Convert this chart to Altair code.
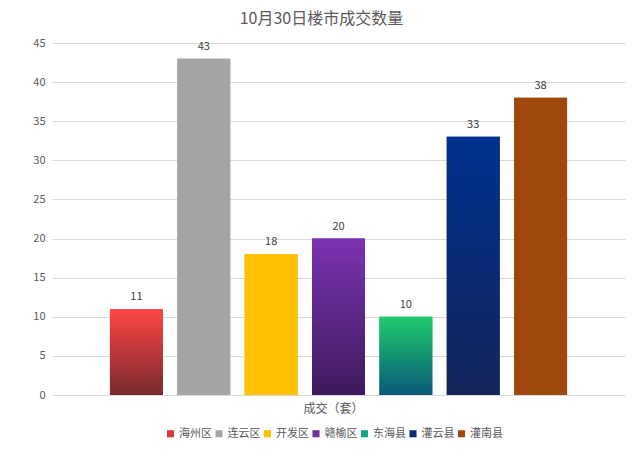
import altair as alt
import pandas as pd

categories = ["海州区", "连云区", "开发区", "赣榆区", "东海县", "灌云县", "灌南县"]
values = [11, 43, 18, 20, 10, 33, 38]
y_ticks = [0, 5, 10, 15, 20, 25, 30, 35, 40, 45]
top_colors = ["#FF4545", "#A5A5A5", "#FFC000", "#7B33B2", "#1FCB6C", "#00318F", "#9E480E"]
bottom_colors = ["#782A2E", "#A5A5A5", "#FFC000", "#3E1A5C", "#0A5878", "#13255A", "#9E480E"]
legend_colors = ["#D63A3A", "#A5A5A5", "#FFC000", "#7030A0", "#17A082", "#0B2C78", "#9E480E"]

df = pd.DataFrame({"cat": categories, "val": values})
FONT = "Noto Sans CJK SC"

x_enc = alt.X(
    "cat:N",
    sort=categories,
    scale=alt.Scale(paddingInner=0.214, paddingOuter=0.86),
    axis=alt.Axis(labels=False, ticks=False, domain=False, title="成交（套）",
                  titleFontSize=12, titleFont=FONT, titleColor="#595959",
                  titleFontWeight="normal", titlePadding=8, titleX=281),
)
y_enc = alt.Y(
    "val:Q",
    scale=alt.Scale(domain=[0, 45], nice=False),
    axis=alt.Axis(values=y_ticks, tickCount=10, ticks=False, domain=False, title=None,
                  labelFontSize=11, labelFont=FONT, labelColor="#595959", labelPadding=7,
                  gridColor="#D9D9D9", gridWidth=1),
)

base = alt.Chart(df).mark_bar().encode(
    x=x_enc,
    y=y_enc,
    color=alt.Color(
        "cat:N",
        sort=categories,
        scale=alt.Scale(domain=categories, range=legend_colors),
        legend=alt.Legend(
            title=None, orient="none", direction="horizontal", legendX=113, legendY=385,
            symbolType="square", symbolSize=50, symbolStrokeWidth=0,
            labelFontSize=11, labelFont=FONT, labelColor="#595959",
            columnPadding=1.5, symbolOffset=0, labelOffset=3,
        ),
    ),
)

layers = [base]
for c, t, b in zip(categories, top_colors, bottom_colors):
    grad = {
        "gradient": "linear", "x1": 0, "y1": 0, "x2": 0, "y2": 1,
        "stops": [{"offset": 0, "color": t}, {"offset": 1, "color": b}],
    }
    layers.append(
        alt.Chart(df).transform_filter(alt.datum.cat == c).mark_bar().encode(
            x=x_enc,
            y=y_enc,
            color=alt.value(grad),
        )
    )

text = alt.Chart(df).mark_text(baseline="bottom", dy=-7, fontSize=11, font=FONT, color="#404040").encode(
    x=x_enc,
    y=y_enc,
    text="val:Q",
)
layers.append(text)

chart = alt.layer(*layers).properties(
    width=573,
    height=352,
    title=alt.TitleParams("10月30日楼市成交数量", fontSize=16, font=FONT, color="#595959",
                          fontWeight="normal", anchor="middle", dx=-17, offset=10),
    autosize=alt.AutoSizeParams(type="none"),
    padding={"left": 44, "top": 35, "right": 7, "bottom": 58},
).configure_view(stroke=None)

chart.save("out.html", embed_options={"renderer": "svg", "actions": False})
